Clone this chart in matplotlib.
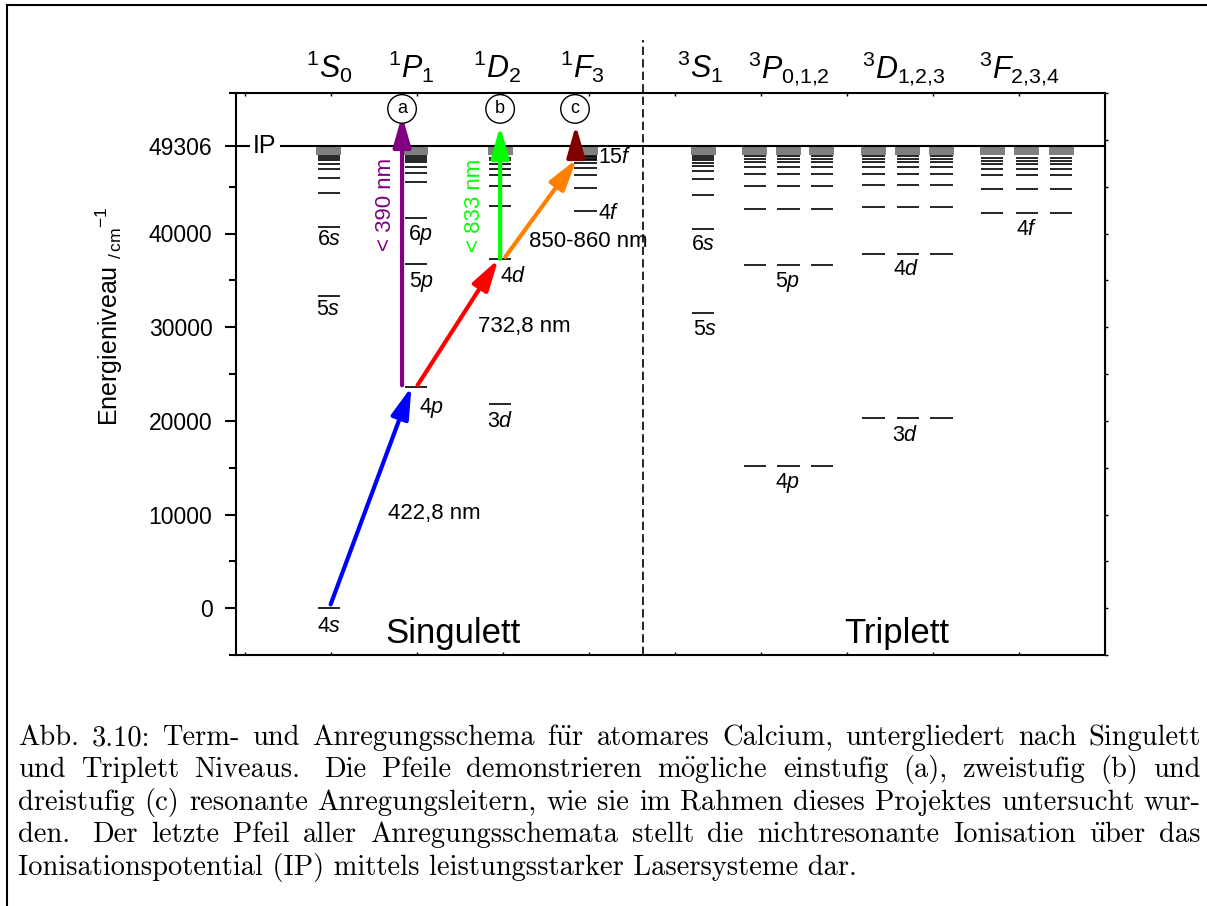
import matplotlib
matplotlib.use("Agg")

import matplotlib.pyplot as plt
from matplotlib.lines import Line2D
import numpy as np

plt.rcParams['font.family'] = ['Liberation Sans', 'DejaVu Sans']
plt.rcParams['mathtext.fontset'] = 'custom'
plt.rcParams['mathtext.rm'] = 'Liberation Sans'
plt.rcParams['mathtext.it'] = 'Liberation Sans:italic'
plt.rcParams['mathtext.bf'] = 'Liberation Sans:bold'

W, H = 1207, 906
IP = 49306

# energy levels in cm^-1
lev_1S0 = [0, 33300, 40720, 44360, 45970, 46860, 47470, 47830, 48060, 48250]
lev_1P1 = [23650, 36730, 41700, 45450, 46500, 47150, 47600, 47880, 48080, 48250]
lev_1D2 = [21800, 37300, 42920, 45050, 46200, 46850, 47400, 47800, 48050]
lev_1F3 = [42390, 44900, 46250, 47000, 47500, 47800, 48000, 48150, 48280]
lev_3S1 = [31560, 40500, 44080, 45870, 46680, 47220, 47580, 47850, 48050, 48230]
lev_3P = [15230, 36600, 42570, 45070, 46330, 47150, 47650, 48000, 48250]
lev_3D = [20300, 37820, 42820, 45150, 46330, 47150, 47650, 48000, 48250]
lev_3F = [42220, 44790, 46220, 46860, 47400, 47760, 48050]
band_bottom = 48370   # lower edge of the dense Rydberg band

# column positions
x_singlet = [0.98, 1.99, 2.97, 3.96]
x_3S = [5.33]
x_3P = [5.93, 6.32, 6.71]
x_3D = [7.31, 7.71, 8.10]
x_3F = [8.69, 9.09, 9.49]

# excitation arrows: start / end (x, E) and colour
arr_x0 = [1.00, 2.01, 1.83, 2.97, 3.03, 3.85]
arr_e0 = [400, 23800, 23800, 37300, 37500, 47950]
arr_x1 = [1.94, 2.95, 1.83, 2.97, 3.86, 3.85]
arr_e1 = [23650, 37250, 52650, 51470, 47950, 51580]
arr_col = ['#0000ff', '#ff0000', '#800080', '#00ff00', '#ff8000', '#800000']

headers = [r'${}^{1}\mathit{S}_{0}$', r'${}^{1}\mathit{P}_{1}$', r'${}^{1}\mathit{D}_{2}$',
           r'${}^{1}\mathit{F}_{3}$', r'${}^{3}\mathit{S}_{1}$', r'${}^{3}\mathit{P}_{0{,}1{,}2}$',
           r'${}^{3}\mathit{D}_{1{,}2{,}3}$', r'${}^{3}\mathit{F}_{2{,}3{,}4}$']
header_x = [0.98, 1.94, 2.93, 3.92, 5.29, 6.33, 7.66, 9.00]

# level labels: text, x, E, horizontal alignment
lab_txt = [r'4$\mathit{s}$', r'5$\mathit{s}$', r'6$\mathit{s}$', r'4$\mathit{p}$', r'5$\mathit{p}$',
           r'6$\mathit{p}$', r'3$\mathit{d}$', r'4$\mathit{d}$', r'4$\mathit{f}$', r'15$\mathit{f}$',
           r'6$\mathit{s}$', r'5$\mathit{s}$', r'5$\mathit{p}$', r'4$\mathit{p}$', r'4$\mathit{d}$',
           r'3$\mathit{d}$', r'4$\mathit{f}$']
lab_x = [0.98, 0.97, 0.98, 2.17, 2.06, 2.05, 2.97, 3.12, 4.11, 4.11,
         5.33, 5.35, 6.31, 6.31, 7.69, 7.68, 9.09]
lab_e = [-1930, 31850, 39360, 21340, 34850, 39890, 19950, 35390, 42150, 48150,
         38820, 29700, 34850, 13400, 36140, 18450, 40430]
lab_ha = ['center'] * 8 + ['left', 'left'] + ['center'] * 7

wl_txt = ['422,8 nm', '732,8 nm', '850-860 nm']
wl_x = [1.67, 2.71, 3.31]
wl_e = [10080, 30030, 39140]

caption = [
    "Abb. 3.10: Term- und Anregungsschema für atomares Calcium, untergliedert nach Singulett",
    "und Triplett Niveaus.  Die Pfeile demonstrieren mögliche einstufig (a), zweistufig (b) und",
    "dreistufig (c) resonante Anregungsleitern, wie sie im Rahmen dieses Projektes untersucht wur-",
    "den.  Der letzte Pfeil aller Anregungsschemata stellt die nichtresonante Ionisation über das",
    "Ionisationspotential (IP) mittels leistungsstarker Lasersysteme dar.",
]

fig = plt.figure(figsize=(W / 100, H / 100), dpi=100)
ax = fig.add_axes([236 / W, 1 - 655 / H, 869 / W, 562 / H])
ax.set_xlim(-0.1, 10.0)
ax.set_ylim(-5000, 55000)

hw = 0.13
for levs, xc in zip([lev_1S0, lev_1P1, lev_1D2, lev_1F3], x_singlet):
    ax.hlines(levs, xc - hw, xc + hw, color='black', lw=1.2)
    ax.bar(xc, IP - band_bottom, bottom=band_bottom, width=0.29, color='#808080')
for levs, xs in [(lev_3S1, x_3S), (lev_3P, x_3P), (lev_3D, x_3D), (lev_3F, x_3F)]:
    for xc in xs:
        ax.hlines(levs, xc - hw, xc + hw, color='black', lw=1.2)
        ax.bar(xc, IP - band_bottom, bottom=band_bottom, width=0.29, color='#808080')

# ionisation potential
ax.hlines(IP, -0.1, 0.06, color='black', lw=1.5)
ax.hlines(IP, 0.41, 10.0, color='black', lw=1.5)
ax.text(0.23, IP, 'IP', fontsize=18, ha='center', va='center')

# singlet / triplet separator
ax.axvline(4.63, ymin=0, ymax=(655 - 40) / 562, color='black', lw=1.2,
           dashes=(5, 2.5), clip_on=False)

for x0, e0, x1, e1, c in zip(arr_x0, arr_e0, arr_x1, arr_e1, arr_col):
    ax.annotate('', xy=(x1, e1), xytext=(x0, e0),
                arrowprops=dict(arrowstyle='-|>,head_length=0.95,head_width=0.27',
                                mutation_scale=20, lw=3, color=c,
                                shrinkA=0, shrinkB=0))

for t, x, e, ha in zip(lab_txt, lab_x, lab_e, lab_ha):
    ax.text(x, e, t, fontsize=15.5, ha=ha, va='center')

for t, x, e in zip(wl_txt, wl_x, wl_e):
    ax.text(x, e, t, fontsize=16, ha='left', va='center')
ax.text(1.64, 43110, '< 390 nm', fontsize=16, color='#800080', rotation=90,
        ha='center', va='center')
ax.text(2.67, 43000, '< 833 nm', fontsize=16, color='#00ff00', rotation=90,
        ha='center', va='center')

for t, x in zip(['a', 'b', 'c'], [1.83, 2.97, 3.84]):
    ax.text(x, 53300, t, fontsize=13, ha='center', va='center',
            bbox=dict(boxstyle='circle,pad=0.32', fc='white', ec='black', lw=1))

ax.text(2.42, -2680, 'Singulett', fontsize=25, ha='center', va='center')
ax.text(7.58, -2680, 'Triplett', fontsize=25, ha='center', va='center')

for t, x in zip(headers, header_x):
    ax.text(x, 1.0267, t, fontsize=22, ha='center', va='baseline',
            transform=ax.get_xaxis_transform(), clip_on=False)

# axes styling
for s in ax.spines.values():
    s.set_linewidth(1.5)
ax.set_yticks([0, 10000, 20000, 30000, 40000, IP])
ax.set_yticklabels(['0', '10000', '20000', '30000', '40000', '49306'])
ax.set_yticks([-5000, 5000, 15000, 25000, 35000, 45000, 55000], minor=True)
ax.tick_params(axis='y', which='major', direction='out', length=8, width=1.5,
               labelsize=16.5, pad=9)
ax.tick_params(axis='y', which='minor', direction='out', length=5, width=1.5)
ax.set_xticks(range(0, 10))
ax.tick_params(axis='x', direction='in', length=2.5, width=1, top=True,
               labelbottom=False)
sec = ax.secondary_yaxis('right')
sec.set_yticks(np.arange(-5000, 55001, 5000))
sec.tick_params(direction='out', length=2.5, width=1, labelright=False)

ax.text(-0.146, 0.603, r'Energieniveau $_{/\,\mathrm{cm}}{}^{-1}$', fontsize=18,
        rotation=90, ha='center', va='center', transform=ax.transAxes)

# page frame
fig.add_artist(Line2D([7 / W, 7 / W], [1 - 5 / H, 0], color='black', lw=1.5))
fig.add_artist(Line2D([7 / W, 1], [1 - 5 / H, 1 - 5 / H], color='black', lw=1.5))


def tex_word(w):
    # cmr10 has no umlauts: build them with mathtext accents
    if 'ü' in w or 'ö' in w:
        w = w.replace('ü', r'\ddot{u}').replace('ö', r'\ddot{o}')
        return r'$\mathrm{' + w + '}$'
    return w


# justified caption
cap_left, cap_right = 18, 1201
cap_base, cap_step = 745, 32.4
cap_font = dict(family=['cmr10', 'DejaVu Serif'], fontsize=20.5, va='baseline',
                math_fontfamily='cm')
fig.canvas.draw()
renderer = fig.canvas.get_renderer()
for i, line in enumerate(caption):
    y = 1 - (cap_base + i * cap_step) / H
    if i == len(caption) - 1:
        fig.text(cap_left / W, y, line, **cap_font)
        continue
    parts = line.split(' ')
    words, weights = [], []
    for p in parts:
        if p == '':
            weights[-1] = 1.6   # sentence space
        else:
            words.append(tex_word(p))
            weights.append(1.0)
    weights = weights[:-1]
    texts = [fig.text(0, y, w, **cap_font) for w in words]
    widths = [t.get_window_extent(renderer).width for t in texts]
    unit = (cap_right - cap_left - sum(widths)) / sum(weights)
    xpos = cap_left
    for k, (t, w) in enumerate(zip(texts, widths)):
        t.set_x(xpos / W)
        if k < len(weights):
            xpos += w + unit * weights[k]

fig.savefig('out.png', dpi=100)
